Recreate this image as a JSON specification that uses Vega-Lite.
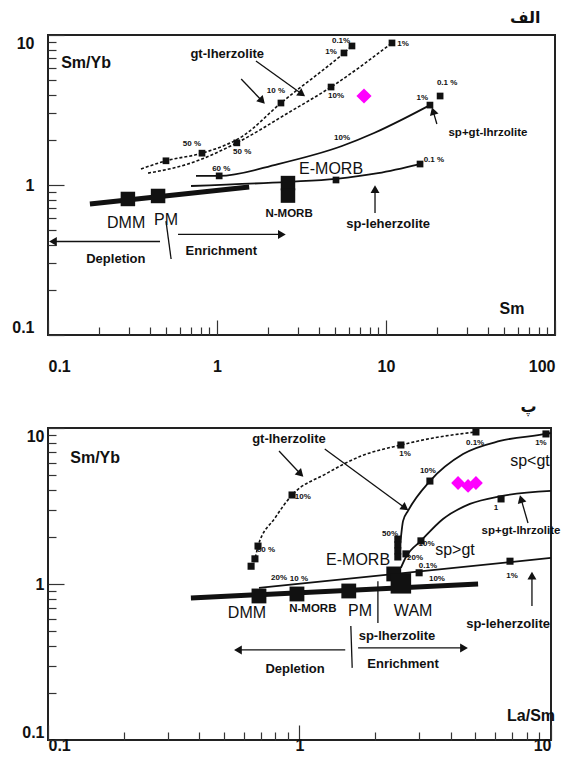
{
 "$schema": "https://vega.github.io/schema/vega-lite/v6.json",
 "padding": {"left": 10, "top": 8, "right": 0, "bottom": 0},
 "background": "white",
 "spacing": 93,
 "bounds": "flush",
 "config": {
  "view": {"stroke": "#222", "strokeWidth": 2},
  "font": "Liberation Sans",
  "axis": {"domain": false, "grid": false, "tickColor": "#333", "tickWidth": 1.2, "labelFont": "Liberation Sans", "labelFontSize": 16, "labelFontWeight": "bold", "labelColor": "#111", "labelOverlap": false, "labelFlush": true},
  "title": {"font": "DejaVu Sans", "fontSize": 16, "fontWeight": "bold", "anchor": "end", "color": "#111"}
 },
 "datasets": {
  "thick1": [{"x":0.177,"y":0.747},{"x":1.55,"y":0.97}],
  "dashed1": [
   {"c":"a","x":0.355,"y":1.28},{"c":"a","x":0.499,"y":1.45},{"c":"a","x":0.815,"y":1.63},{"c":"a","x":1.42,"y":2.12},{"c":"a","x":2.39,"y":3.52},{"c":"a","x":5.64,"y":7.59},{"c":"a","x":6.29,"y":8.45},
   {"c":"b","x":0.391,"y":1.2},{"c":"b","x":0.673,"y":1.38},{"c":"b","x":1.31,"y":1.91},{"c":"b","x":2.63,"y":3.02},{"c":"b","x":4.73,"y":4.5},{"c":"b","x":10.85,"y":8.85}
  ],
  "solid1": [
   {"c":"c","x":0.751,"y":1.15},{"c":"c","x":1.03,"y":1.15},{"c":"c","x":2.3,"y":1.38},{"c":"c","x":5.49,"y":1.82},{"c":"c","x":8.5,"y":2.22},{"c":"c","x":12.6,"y":2.75},{"c":"c","x":18.2,"y":3.41},
   {"c":"d","x":0.702,"y":0.985},{"c":"d","x":2.63,"y":1.05},{"c":"d","x":5.06,"y":1.1},{"c":"d","x":8.97,"y":1.2},{"c":"d","x":15.9,"y":1.38}
  ],
  "sq1s": [
   {"x":0.499,"y":1.45},{"x":0.815,"y":1.63},{"x":2.39,"y":3.52},{"x":5.64,"y":7.59},{"x":6.29,"y":8.45},{"x":1.31,"y":1.91},{"x":4.73,"y":4.5},{"x":10.85,"y":8.85},{"x":1.03,"y":1.15},{"x":18.2,"y":3.41},{"x":20.9,"y":3.92},{"x":5.06,"y":1.08},{"x":15.9,"y":1.38}
  ],
  "sq1b": [{"x":0.297,"y":0.807},{"x":0.448,"y":0.845},{"x":2.63,"y":1.03},{"x":2.63,"y":0.85}],
  "pct1": [
   {"t":"50 %","x":0.711,"y":1.88},{"t":"10 %","x":2.23,"y":4.23},{"t":"1%","x":4.73,"y":7.7},{"t":"0.1%","x":5.42,"y":9.12},
   {"t":"50 %","x":1.41,"y":1.66},{"t":"10%","x":5.06,"y":3.92},{"t":"1%","x":12.6,"y":8.71},
   {"t":"60 %","x":1.06,"y":1.28},{"t":"10%","x":5.49,"y":2.06},{"t":"1%","x":16.4,"y":3.8},{"t":"0.1 %","x":23.0,"y":4.79},
   {"t":"0.1 %","x":19.2,"y":1.47}
  ],
  "lbl1m": [{"t":"gt-lherzolite","x":1.15,"y":7.47},{"t":"Depletion","x":0.252,"y":0.321},{"t":"Enrichment","x":1.06,"y":0.363},{"t":"sp-leherzolite","x":10.3,"y":0.55}],
  "lbl1s": [{"t":"N-MORB","x":2.67,"y":0.641},{"t":"sp+gt-lhrzolite","x":40.1,"y":2.22}],
  "lbl1b": [{"t":"E-MORB","x":4.73,"y":1.28},{"t":"DMM","x":0.29,"y":0.558},{"t":"PM","x":0.499,"y":0.584}],
  "ax1": [{"t":"Sm","x":55.7,"y":0.149},{"t":"Sm/Yb","x":0.168,"y":6.5}],
  "arr1": [
   {"id":"a1","x":1.39,"y":5.09,"x2":1.85,"y2":3.63},
   {"id":"a2","x":1.7,"y":6.71,"x2":3.18,"y2":4.04},
   {"id":"a3","x":20.0,"y":2.55,"x2":19.0,"y2":3.11},
   {"id":"a4","x":8.61,"y":0.651,"x2":8.61,"y2":0.94},
   {"id":"a5","x":0.46,"y":0.42,"x2":0.107,"y2":0.42},
   {"id":"a6","x":0.588,"y":0.468,"x2":2.42,"y2":0.468},
   {"id":"l1","x":0.499,"y":0.575,"x2":0.535,"y2":0.321}
  ],
  "dia1": [{"x":7.41,"y":3.92}],
  "thick2": [{"x":0.37,"y":0.813},{"x":5.13,"y":1.0}],
  "dashed2": [
   {"c":"g","x":0.642,"y":1.3},{"c":"g","x":0.665,"y":1.45},{"c":"g","x":0.684,"y":1.75},{"c":"g","x":0.799,"y":2.65},{"c":"g","x":0.934,"y":3.72},{"c":"g","x":1.27,"y":5.07},{"c":"g","x":1.76,"y":6.62},{"c":"g","x":2.53,"y":7.78},{"c":"g","x":3.4,"y":8.63},{"c":"g","x":5.03,"y":9.43}
  ],
  "solid2": [
   {"c":"e","x":2.46,"y":1.47},{"c":"e","x":2.51,"y":1.78},{"c":"e","x":2.58,"y":2.53},{"c":"e","x":2.7,"y":2.94},{"c":"e","x":3.3,"y":4.57},{"c":"e","x":4.47,"y":6.81},{"c":"e","x":6.27,"y":8.26},{"c":"e","x":9.55,"y":9.16},{"c":"e","x":10,"y":9.29},
   {"c":"f","x":2.53,"y":1.27},{"c":"f","x":2.65,"y":1.49},{"c":"f","x":3.04,"y":1.89},{"c":"f","x":3.72,"y":2.61},{"c":"f","x":4.76,"y":3.26},{"c":"f","x":6.33,"y":3.66},{"c":"f","x":10,"y":3.95},
   {"c":"h","x":0.69,"y":0.943},{"c":"h","x":10,"y":1.47}
  ],
  "sq2s": [
   {"x":0.642,"y":1.3},{"x":0.665,"y":1.45},{"x":0.684,"y":1.75},{"x":0.934,"y":3.72},{"x":2.53,"y":7.78},{"x":5.03,"y":9.43},
   {"x":2.46,"y":1.94},{"x":2.46,"y":1.78},{"x":2.46,"y":1.63},{"x":2.46,"y":1.49},{"x":3.3,"y":4.57},{"x":9.55,"y":9.16},
   {"x":2.65,"y":1.56},{"x":3.04,"y":1.89},{"x":6.33,"y":3.51},{"x":2.99,"y":1.18},{"x":6.87,"y":1.4}
  ],
  "sq2b": [{"x":0.69,"y":0.838},{"x":0.977,"y":0.863},{"x":1.57,"y":0.902},{"x":2.37,"y":1.16}],
  "sq2w": [{"x":2.53,"y":1.01}],
  "pct2": [
   {"t":"60 %","x":0.736,"y":1.65},{"t":"10%","x":1.03,"y":3.61},{"t":"1%","x":2.63,"y":6.81},{"t":"0.1%","x":4.99,"y":8.01},
   {"t":"50%","x":2.29,"y":2.09},{"t":"10%","x":3.24,"y":5.3},{"t":"1%","x":9.12,"y":8.01},
   {"t":"20%","x":2.88,"y":1.47},{"t":"10%","x":3.2,"y":1.8},{"t":"1","x":6.04,"y":3.07},
   {"t":"0.1%","x":3.24,"y":1.3},{"t":"1%","x":7.0,"y":1.13},{"t":"10%","x":3.52,"y":1.08},{"t":"20%","x":0.829,"y":1.09},{"t":"10 %","x":0.995,"y":1.08}
  ],
  "lbl2m": [{"t":"gt-lherzolite","x":0.908,"y":8.5},{"t":"sp-lherzolite","x":2.44,"y":0.464},{"t":"Enrichment","x":2.58,"y":0.307},{"t":"Depletion","x":0.96,"y":0.285},{"t":"sp-leherzolite","x":6.75,"y":0.554}],
  "lbl2s": [{"t":"N-MORB","x":1.13,"y":0.691},{"t":"sp+gt-lhrzolite","x":7.6,"y":2.19}],
  "lbl2b": [{"t":"E-MORB","x":1.71,"y":1.43},{"t":"DMM","x":0.618,"y":0.652},{"t":"PM","x":1.74,"y":0.671},{"t":"WAM","x":2.83,"y":0.671},{"t":"sp<gt","x":8.25,"y":6.14},{"t":"sp>gt","x":4.15,"y":1.65}],
  "ax2": [{"t":"La/Sm","x":8.33,"y":0.143},{"t":"Sm/Yb","x":0.154,"y":6.42}],
  "arr2": [
   {"id":"a1","x":0.829,"y":7.12,"x2":1.01,"y2":5.07},
   {"id":"a2","x":1.26,"y":7.33,"x2":2.63,"y2":3.07},
   {"id":"a3","x":8.1,"y":2.46,"x2":7.6,"y2":3.51},
   {"id":"a4","x":8.4,"y":0.723,"x2":8.4,"y2":1.13},
   {"id":"a5","x":1.52,"y":0.378,"x2":0.569,"y2":0.378},
   {"id":"a6","x":1.71,"y":0.389,"x2":4.51,"y2":0.389},
   {"id":"l1","x":2.05,"y":1.04,"x2":2.05,"y2":0.562},
   {"id":"l2","x":1.6,"y":0.538,"x2":1.62,"y2":0.29}
  ],
  "dia2": [{"x":4.27,"y":4.44},{"x":4.68,"y":4.25},{"x":5.03,"y":4.44}]
 },
 "vconcat": [
  {
   "width": 507, "height": 300,
   "title": {"text": "الف", "offset": 8, "dx": -15},
   "layer": [
    {"data": {"name": "thick1"}, "mark": {"type": "line", "strokeWidth": 5, "color": "#111"},
     "encoding": {
      "x": {"field": "x", "type": "quantitative", "scale": {"type": "log", "domain": [0.1, 100], "nice": false},
            "axis": {"title": null, "values": [0.1,0.2,0.3,0.4,0.5,0.6,0.7,0.8,0.9,1,2,3,4,5,6,7,8,9,10,20,30,40,50,60,70,80,90,100], "format": "~g", "labelExpr": "abs(log(datum.value)/LN10 - round(log(datum.value)/LN10)) < 0.01 ? datum.label : ''",
                     "tickSize": {"condition": {"test": "abs(log(datum.value)/LN10 - round(log(datum.value)/LN10)) < 0.01", "value": -15}, "value": -8}, "labelPadding": 38}},
      "y": {"field": "y", "type": "quantitative", "scale": {"type": "log", "domain": [0.1, 10], "nice": false},
            "axis": {"title": null, "values": [0.1,0.2,0.3,0.4,0.5,0.6,0.7,0.8,0.9,1,2,3,4,5,6,7,8,9,10], "format": "~g", "labelExpr": "abs(log(datum.value)/LN10 - round(log(datum.value)/LN10)) < 0.01 ? datum.label : ''",
                     "tickSize": {"condition": {"test": "abs(log(datum.value)/LN10 - round(log(datum.value)/LN10)) < 0.01", "value": -16}, "value": -8}, "labelPadding": 30}}
     }},
    {"data": {"name": "dashed1"}, "mark": {"type": "line", "strokeWidth": 1.6, "strokeDash": [3, 2], "color": "#111", "interpolate": "monotone"},
     "encoding": {"x": {"field": "x", "type": "quantitative"}, "y": {"field": "y", "type": "quantitative"}, "detail": {"field": "c"}}},
    {"data": {"name": "solid1"}, "mark": {"type": "line", "strokeWidth": 1.8, "color": "#111", "interpolate": "monotone"},
     "encoding": {"x": {"field": "x", "type": "quantitative"}, "y": {"field": "y", "type": "quantitative"}, "detail": {"field": "c"}}},
    {"data": {"name": "arr1"}, "mark": {"type": "rule", "strokeWidth": 1.3, "color": "#111"},
     "encoding": {"x": {"field": "x", "type": "quantitative"}, "y": {"field": "y", "type": "quantitative"}, "x2": {"field": "x2"}, "y2": {"field": "y2"}}},
    {"data": {"name": "arr1"}, "transform": [{"filter": "datum.id == 'a1'"}], "mark": {"type": "point", "shape": "triangle-right", "angle": 46, "filled": true, "opacity": 1, "size": 80, "color": "#111"},
     "encoding": {"x": {"field": "x2", "type": "quantitative"}, "y": {"field": "y2", "type": "quantitative"}}},
    {"data": {"name": "arr1"}, "transform": [{"filter": "datum.id == 'a2'"}], "mark": {"type": "point", "shape": "triangle-right", "angle": 36, "filled": true, "opacity": 1, "size": 80, "color": "#111"},
     "encoding": {"x": {"field": "x2", "type": "quantitative"}, "y": {"field": "y2", "type": "quantitative"}}},
    {"data": {"name": "arr1"}, "transform": [{"filter": "datum.id == 'a3'"}], "mark": {"type": "point", "shape": "triangle-up", "angle": -17, "filled": true, "opacity": 1, "size": 80, "color": "#111"},
     "encoding": {"x": {"field": "x2", "type": "quantitative"}, "y": {"field": "y2", "type": "quantitative"}}},
    {"data": {"name": "arr1"}, "transform": [{"filter": "datum.id == 'a4'"}], "mark": {"type": "point", "shape": "triangle-up", "filled": true, "opacity": 1, "size": 80, "color": "#111"},
     "encoding": {"x": {"field": "x2", "type": "quantitative"}, "y": {"field": "y2", "type": "quantitative"}}},
    {"data": {"name": "arr1"}, "transform": [{"filter": "datum.id == 'a5'"}], "mark": {"type": "point", "shape": "triangle-left", "filled": true, "opacity": 1, "size": 80, "color": "#111"},
     "encoding": {"x": {"field": "x2", "type": "quantitative"}, "y": {"field": "y2", "type": "quantitative"}}},
    {"data": {"name": "arr1"}, "transform": [{"filter": "datum.id == 'a6'"}], "mark": {"type": "point", "shape": "triangle-right", "filled": true, "opacity": 1, "size": 80, "color": "#111"},
     "encoding": {"x": {"field": "x2", "type": "quantitative"}, "y": {"field": "y2", "type": "quantitative"}}},
    {"data": {"name": "sq1s"}, "mark": {"type": "point", "shape": "square", "filled": true, "opacity": 1, "size": 45, "color": "#111"},
     "encoding": {"x": {"field": "x", "type": "quantitative"}, "y": {"field": "y", "type": "quantitative"}}},
    {"data": {"name": "sq1b"}, "mark": {"type": "point", "shape": "square", "filled": true, "opacity": 1, "size": 210, "color": "#111"},
     "encoding": {"x": {"field": "x", "type": "quantitative"}, "y": {"field": "y", "type": "quantitative"}}},
    {"data": {"name": "dia1"}, "mark": {"type": "point", "shape": "diamond", "filled": true, "opacity": 1, "size": 230, "color": "#ff00ff"},
     "encoding": {"x": {"field": "x", "type": "quantitative"}, "y": {"field": "y", "type": "quantitative"}}},
    {"data": {"name": "pct1"}, "mark": {"type": "text", "fontSize": 8, "fontWeight": "bold", "color": "#111"},
     "encoding": {"x": {"field": "x", "type": "quantitative"}, "y": {"field": "y", "type": "quantitative"}, "text": {"field": "t"}}},
    {"data": {"name": "lbl1m"}, "mark": {"type": "text", "fontSize": 13, "fontWeight": "bold", "color": "#111"},
     "encoding": {"x": {"field": "x", "type": "quantitative"}, "y": {"field": "y", "type": "quantitative"}, "text": {"field": "t"}}},
    {"data": {"name": "lbl1s"}, "mark": {"type": "text", "fontSize": 11.5, "fontWeight": "bold", "color": "#111"},
     "encoding": {"x": {"field": "x", "type": "quantitative"}, "y": {"field": "y", "type": "quantitative"}, "text": {"field": "t"}}},
    {"data": {"name": "lbl1b"}, "mark": {"type": "text", "fontSize": 16, "color": "#111"},
     "encoding": {"x": {"field": "x", "type": "quantitative"}, "y": {"field": "y", "type": "quantitative"}, "text": {"field": "t"}}},
    {"data": {"name": "ax1"}, "mark": {"type": "text", "fontSize": 16, "fontWeight": "bold", "color": "#111"},
     "encoding": {"x": {"field": "x", "type": "quantitative"}, "y": {"field": "y", "type": "quantitative"}, "text": {"field": "t"}}}
   ]
  },
  {
   "width": 503, "height": 312,
   "title": {"text": "پ", "offset": 12, "dx": -24},
   "layer": [
    {"data": {"name": "thick2"}, "mark": {"type": "line", "strokeWidth": 5, "color": "#111"},
     "encoding": {
      "x": {"field": "x", "type": "quantitative", "scale": {"type": "log", "domain": [0.1, 10], "nice": false},
            "axis": {"title": null, "values": [0.1,0.2,0.3,0.4,0.5,0.6,0.7,0.8,0.9,1,2,3,4,5,6,7,8,9,10], "format": "~g", "labelExpr": "abs(log(datum.value)/LN10 - round(log(datum.value)/LN10)) < 0.01 ? datum.label : ''",
                     "tickSize": {"condition": {"test": "abs(log(datum.value)/LN10 - round(log(datum.value)/LN10)) < 0.01", "value": -15}, "value": -8}, "labelPadding": 12}},
      "y": {"field": "y", "type": "quantitative", "scale": {"type": "log", "domain": [0.1, 10], "nice": false},
            "axis": {"title": null, "values": [0.1,0.2,0.3,0.4,0.5,0.6,0.7,0.8,0.9,1,2,3,4,5,6,7,8,9,10], "format": "~g", "labelExpr": "abs(log(datum.value)/LN10 - round(log(datum.value)/LN10)) < 0.01 ? datum.label : ''",
                     "tickSize": {"condition": {"test": "abs(log(datum.value)/LN10 - round(log(datum.value)/LN10)) < 0.01", "value": -16}, "value": -8}, "labelPadding": 20}}
     }},
    {"data": {"name": "dashed2"}, "mark": {"type": "line", "strokeWidth": 1.6, "strokeDash": [3, 2], "color": "#111", "interpolate": "monotone"},
     "encoding": {"x": {"field": "x", "type": "quantitative"}, "y": {"field": "y", "type": "quantitative"}, "detail": {"field": "c"}}},
    {"data": {"name": "solid2"}, "mark": {"type": "line", "strokeWidth": 1.8, "color": "#111", "interpolate": "monotone"},
     "encoding": {"x": {"field": "x", "type": "quantitative"}, "y": {"field": "y", "type": "quantitative"}, "detail": {"field": "c"}}},
    {"data": {"name": "arr2"}, "mark": {"type": "rule", "strokeWidth": 1.3, "color": "#111"},
     "encoding": {"x": {"field": "x", "type": "quantitative"}, "y": {"field": "y", "type": "quantitative"}, "x2": {"field": "x2"}, "y2": {"field": "y2"}}},
    {"data": {"name": "arr2"}, "transform": [{"filter": "datum.id == 'a1'"}], "mark": {"type": "point", "shape": "triangle-right", "angle": 45, "filled": true, "opacity": 1, "size": 80, "color": "#111"},
     "encoding": {"x": {"field": "x2", "type": "quantitative"}, "y": {"field": "y2", "type": "quantitative"}}},
    {"data": {"name": "arr2"}, "transform": [{"filter": "datum.id == 'a2'"}], "mark": {"type": "point", "shape": "triangle-right", "angle": 36, "filled": true, "opacity": 1, "size": 80, "color": "#111"},
     "encoding": {"x": {"field": "x2", "type": "quantitative"}, "y": {"field": "y2", "type": "quantitative"}}},
    {"data": {"name": "arr2"}, "transform": [{"filter": "datum.id == 'a3'"}], "mark": {"type": "point", "shape": "triangle-up", "angle": -16, "filled": true, "opacity": 1, "size": 80, "color": "#111"},
     "encoding": {"x": {"field": "x2", "type": "quantitative"}, "y": {"field": "y2", "type": "quantitative"}}},
    {"data": {"name": "arr2"}, "transform": [{"filter": "datum.id == 'a4'"}], "mark": {"type": "point", "shape": "triangle-up", "filled": true, "opacity": 1, "size": 80, "color": "#111"},
     "encoding": {"x": {"field": "x2", "type": "quantitative"}, "y": {"field": "y2", "type": "quantitative"}}},
    {"data": {"name": "arr2"}, "transform": [{"filter": "datum.id == 'a5'"}], "mark": {"type": "point", "shape": "triangle-left", "filled": true, "opacity": 1, "size": 80, "color": "#111"},
     "encoding": {"x": {"field": "x2", "type": "quantitative"}, "y": {"field": "y2", "type": "quantitative"}}},
    {"data": {"name": "arr2"}, "transform": [{"filter": "datum.id == 'a6'"}], "mark": {"type": "point", "shape": "triangle-right", "filled": true, "opacity": 1, "size": 80, "color": "#111"},
     "encoding": {"x": {"field": "x2", "type": "quantitative"}, "y": {"field": "y2", "type": "quantitative"}}},
    {"data": {"name": "sq2s"}, "mark": {"type": "point", "shape": "square", "filled": true, "opacity": 1, "size": 50, "color": "#111"},
     "encoding": {"x": {"field": "x", "type": "quantitative"}, "y": {"field": "y", "type": "quantitative"}}},
    {"data": {"name": "sq2b"}, "mark": {"type": "point", "shape": "square", "filled": true, "opacity": 1, "size": 220, "color": "#111"},
     "encoding": {"x": {"field": "x", "type": "quantitative"}, "y": {"field": "y", "type": "quantitative"}}},
    {"data": {"name": "sq2w"}, "mark": {"type": "point", "shape": "square", "filled": true, "opacity": 1, "size": 420, "color": "#111"},
     "encoding": {"x": {"field": "x", "type": "quantitative"}, "y": {"field": "y", "type": "quantitative"}}},
    {"data": {"name": "dia2"}, "mark": {"type": "point", "shape": "diamond", "filled": true, "opacity": 1, "size": 190, "color": "#ff00ff"},
     "encoding": {"x": {"field": "x", "type": "quantitative"}, "y": {"field": "y", "type": "quantitative"}}},
    {"data": {"name": "pct2"}, "mark": {"type": "text", "fontSize": 8, "fontWeight": "bold", "color": "#111"},
     "encoding": {"x": {"field": "x", "type": "quantitative"}, "y": {"field": "y", "type": "quantitative"}, "text": {"field": "t"}}},
    {"data": {"name": "lbl2m"}, "mark": {"type": "text", "fontSize": 13, "fontWeight": "bold", "color": "#111"},
     "encoding": {"x": {"field": "x", "type": "quantitative"}, "y": {"field": "y", "type": "quantitative"}, "text": {"field": "t"}}},
    {"data": {"name": "lbl2s"}, "mark": {"type": "text", "fontSize": 11.5, "fontWeight": "bold", "color": "#111"},
     "encoding": {"x": {"field": "x", "type": "quantitative"}, "y": {"field": "y", "type": "quantitative"}, "text": {"field": "t"}}},
    {"data": {"name": "lbl2b"}, "mark": {"type": "text", "fontSize": 16, "color": "#111"},
     "encoding": {"x": {"field": "x", "type": "quantitative"}, "y": {"field": "y", "type": "quantitative"}, "text": {"field": "t"}}},
    {"data": {"name": "ax2"}, "mark": {"type": "text", "fontSize": 16, "fontWeight": "bold", "color": "#111"},
     "encoding": {"x": {"field": "x", "type": "quantitative"}, "y": {"field": "y", "type": "quantitative"}, "text": {"field": "t"}}}
   ]
  }
 ]
}
